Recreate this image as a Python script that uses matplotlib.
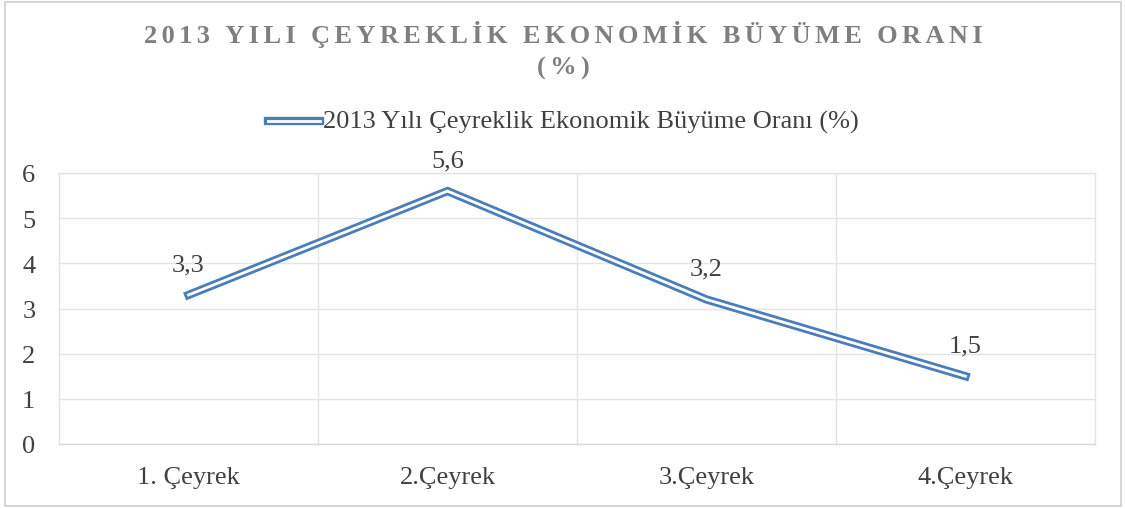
import matplotlib
matplotlib.use("Agg")
import matplotlib.pyplot as plt
from matplotlib.patches import Rectangle
from matplotlib.lines import Line2D

categories = ["1. Çeyrek", "2.Çeyrek", "3.Çeyrek", "4.Çeyrek"]
values = [3.3, 5.6, 3.2, 1.5]
value_labels = ["3,3", "5,6", "3,2", "1,5"]
y_ticks = [0, 1, 2, 3, 4, 5, 6]
title_line1 = "2013 YILI ÇEYREKLİK EKONOMİK BÜYÜME ORANI"
title_line2 = "(%)"
series_name = "2013 Yılı Çeyreklik Ekonomik Büyüme Oranı (%)"

plt.rcParams['font.family'] = ['Liberation Serif', 'DejaVu Serif']
text_color = "#404040"
line_color = "#4a7ebb"
grid_color = "#e4e4e4"
fs = 19

fig = plt.figure(figsize=(11.25, 5.1), dpi=100)
ax = fig.add_axes([59/1125, 1-445/510, (1095-59)/1125, (445-174)/510])

x = list(range(len(categories)))
ax.plot(x, values, color=line_color, lw=6.0, solid_joinstyle='miter', zorder=3)
ax.plot(x, values, color='white', lw=2.0, solid_joinstyle='miter', zorder=4)

for xi, v, lab in zip(x, values, value_labels):
    ax.annotate(lab, (xi, v), xytext=(0, 22), textcoords='offset points',
                ha='center', va='center', fontsize=fs, color=text_color)

ax.set_xlim(-0.5, len(categories) - 0.5)
ax.set_ylim(0, 6)
ax.set_yticks(y_ticks)
ax.set_yticklabels([str(t) for t in y_ticks])
ax.set_xticks(x)
ax.set_xticklabels(categories)
ax.set_xticks([i + 0.5 for i in x[:-1]], minor=True)
ax.tick_params(axis='both', which='both', length=0, labelsize=fs, colors=text_color)
ax.tick_params(axis='x', pad=16)
ax.tick_params(axis='y', pad=17)
ax.grid(True, which='major', axis='y', color=grid_color, lw=1)
ax.grid(True, which='minor', axis='x', color=grid_color, lw=1)
for s in ax.spines.values():
    s.set_color(grid_color)
    s.set_linewidth(1)
ax.spines['bottom'].set_color('#d9d9d9')

spaced1 = "\u2006".join(title_line1)
spaced2 = "\u2006".join(title_line2)
fig.text(563/1125, 1-35/510, spaced1, ha='center', va='center', fontsize=19,
         fontweight='bold', color='#7f7f7f')
fig.text(563/1125, 1-68/510, spaced2, ha='center', va='center', fontsize=19,
         fontweight='bold', color='#7f7f7f')

legline = Line2D([268/1125, 320/1125], [1-122/510, 1-122/510], transform=fig.transFigure,
                 color=line_color, lw=6.0)
legline2 = Line2D([268/1125, 320/1125], [1-122/510, 1-122/510], transform=fig.transFigure,
                  color='white', lw=2.0)
fig.add_artist(legline)
fig.add_artist(legline2)
fig.text(323/1125, 1-122/510, series_name, ha='left', va='center', fontsize=fs, color=text_color)

fig.add_artist(Rectangle((5/1125, 3/510), 1116/1125, 504/510, transform=fig.transFigure,
                         fill=False, edgecolor='#d0d0d0', lw=1.2))

fig.savefig("out.png", dpi=100)
